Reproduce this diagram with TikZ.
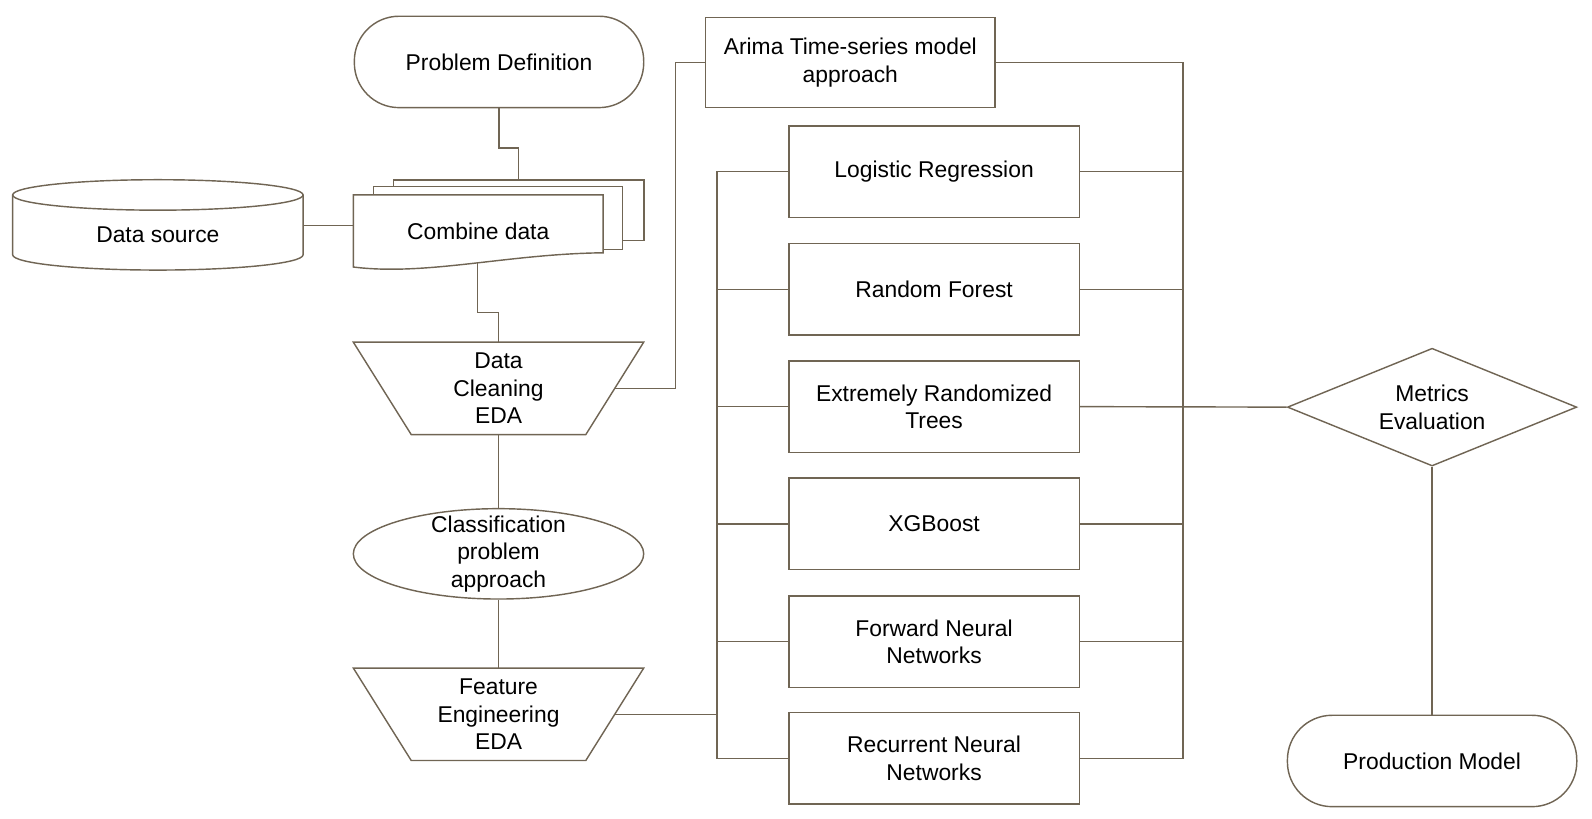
\documentclass[tikz,border=0pt]{standalone}
\usepackage{fontspec}
\setmainfont{Liberation Sans}
\usetikzlibrary{shapes.geometric,shapes.misc}
\definecolor{ln}{RGB}{112,101,84}
\begin{document}
\begin{tikzpicture}[x=0.5pt,y=-0.5pt,
  every node/.style={font=\fontsize{11.25}{13.5}\selectfont, text=black, align=center, inner sep=0pt},
  base/.style={draw=ln, line width=0.7pt, fill=white},
  term/.style={base, rectangle, rounded corners=22pt, minimum width=142.5pt, minimum height=45pt},
  proc/.style={base, rectangle, minimum width=143pt, minimum height=45pt},
  trapbox/.style={rectangle, minimum width=114.5pt, minimum height=45.5pt},
  conn/.style={draw=ln, line width=0.7pt},
]
\useasboundingbox (0,0) rectangle (1568,806);

% Problem definition
\node[term] (pd) at (491.5,61) {Problem Definition};

% Data source cylinder
\node[minimum width=143pt, minimum height=44.5pt] (ds) at (155.5,222) {};
\draw[base] (12.5,192) -- (12.5,251) arc[start angle=180, end angle=360, x radius=71.5pt, y radius=7.5pt] -- (298.5,192);
\draw[base] (155.5,192) ellipse[x radius=71.5pt, y radius=7.5pt];
\node at (155.5,231) {Data source};

% Combine data (multi-document)
\draw[base] (387.4,177.3) rectangle (634.3,237);
\draw[base] (367.7,183.9) rectangle (613.3,245.6);
\draw[base] (348,192) -- (594,192) -- (594,249) .. controls (500,250) and (420,272) .. (348,263) -- cycle;
\node[minimum width=123pt, minimum height=30pt] (cd) at (471,228) {Combine data};
\coordinate (cdtop) at (510.5,177.3);
\coordinate (cdbot) at (470.5,259.3);

% Data cleaning trapezoid
\draw[base] (348,337) -- (634,337) -- (577,428) -- (405,428) -- cycle;
\node[trapbox] (dc) at (491,382.5) {Data\\Cleaning\\EDA};

% Classification ellipse
\node[base, ellipse, minimum width=143pt, minimum height=44.5pt] (cl) at (491,545.5) {};
\node at (cl.center) {Classification\\problem\\approach};

% Feature engineering trapezoid
\draw[base] (348,658) -- (634,658) -- (577,749) -- (405,749) -- cycle;
\node[trapbox] (fe) at (491,703.5) {Feature\\Engineering\\EDA};

% Arima
\node[proc, minimum width=142.5pt, minimum height=44.5pt] (ar) at (837.5,61.5) {Arima Time-series model\\approach};

% Models
\node[proc] (m1) at (920,169) {Logistic Regression};
\node[proc] (m2) at (920,285) {Random Forest};
\node[proc] (m3) at (920,400.5) {Extremely Randomized\\Trees};
\node[proc] (m4) at (920,516) {XGBoost};
\node[proc] (m5) at (920,632) {Forward Neural\\Networks};
\node[proc] (m6) at (920,747) {Recurrent Neural\\Networks};

% Metrics and production
\node[base, diamond, shape aspect=2.46, minimum width=142.5pt, minimum height=58pt] (me) at (1410.5,401) {Metrics\\Evaluation};
\node[term] (prod) at (1410.5,749.5) {Production Model};

\coordinate (lb) at (706,169);
\coordinate (rb) at (1165,61.5);

% Connectors
\draw[conn] (pd.south) -- ++(0,39) -| (cdtop);
\draw[conn] (ds.east) -- (ds.east -| cd.west);
\draw[conn] (cdbot) -- ++(0,48.7) -| (dc.north);
\draw[conn] (dc.east) -- ++(59.5,0) |- (ar.west);
\draw[conn] (dc.south) -- (cl.north);
\draw[conn] (cl.south) -- (fe.north);
\draw[conn] (fe.east) -- (fe.east -| lb);

\draw[conn] (m1.west) -| (m6.west -| lb) -- (m6.west);
\foreach \m in {m2,m3,m4,m5} \draw[conn] (\m.west) -- (\m.west -| lb);

\draw[conn] (ar.east) -| (m6.east -| rb) -- (m6.east);
\foreach \m in {m1,m2,m4,m5} \draw[conn] (\m.east) -- (\m.east -| rb);
\draw[conn] (m3.east) -- (me.west);
\draw[conn] (me.south) -- (prod.north);
\end{tikzpicture}
\end{document}
